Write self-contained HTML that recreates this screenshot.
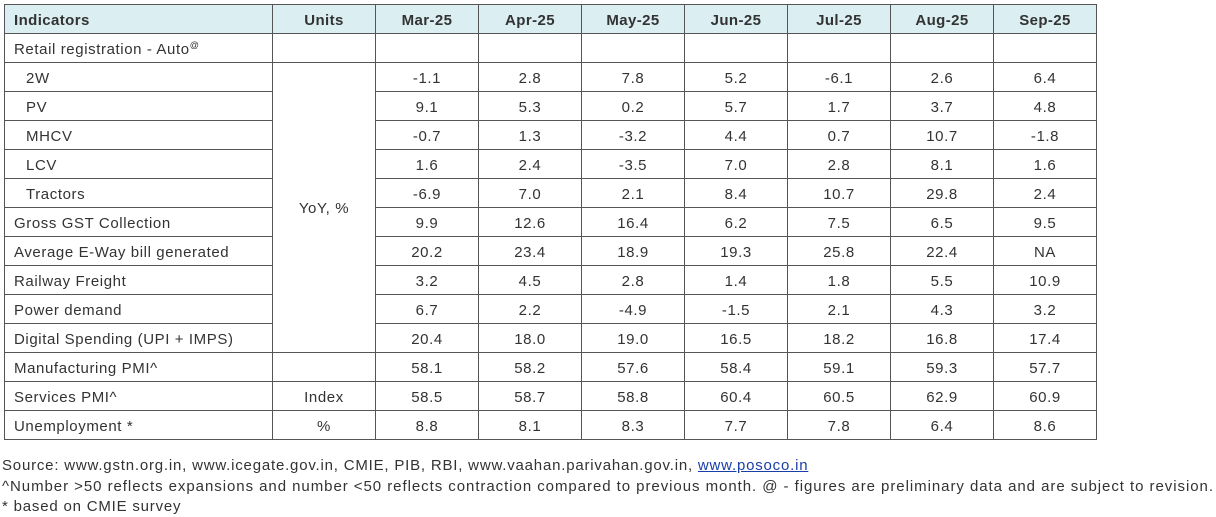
<!DOCTYPE html>
<html><head><meta charset="utf-8"><style>
body{margin:0;background:#fff;width:1216px;height:517px;overflow:hidden;font-family:"Liberation Sans",sans-serif;color:#333;}
table{position:absolute;left:4px;top:4px;border-collapse:collapse;table-layout:fixed;width:1093px;}
td,th{border:1.5px solid #555;height:28px;padding:2px 0 0 0;box-sizing:border-box;font-size:15px;text-align:center;font-weight:normal;letter-spacing:0.6px;}
th{background:#dbeef1;font-weight:bold;color:#333;height:29px;letter-spacing:0.4px;}
td.l,th.l{text-align:left;padding-left:9px;}
td.i{text-align:left;padding-left:21px;}
.f{position:absolute;left:2px;font-size:15px;letter-spacing:0.8px;color:#333;white-space:nowrap;}
a{color:#1a3ea8;text-decoration:underline;}
sup{font-size:9px;}
</style></head><body>
<table>
<colgroup><col style="width:268px"><col style="width:103px"><col style="width:103px"><col style="width:103px"><col style="width:103px"><col style="width:103px"><col style="width:103px"><col style="width:103px"><col style="width:103px"></colgroup>
<tr style="height:29px"><th class="l">Indicators</th><th>Units</th><th>Mar-25</th><th>Apr-25</th><th>May-25</th><th>Jun-25</th><th>Jul-25</th><th>Aug-25</th><th>Sep-25</th></tr>
<tr style="height:29px"><td class="l">Retail registration - Auto<sup>@</sup></td><td></td><td></td><td></td><td></td><td></td><td></td><td></td><td></td></tr>
<tr style="height:29px"><td class="i">2W</td><td rowspan="10">YoY, %</td><td>-1.1</td><td>2.8</td><td>7.8</td><td>5.2</td><td>-6.1</td><td>2.6</td><td>6.4</td></tr>
<tr style="height:29px"><td class="i">PV</td><td>9.1</td><td>5.3</td><td>0.2</td><td>5.7</td><td>1.7</td><td>3.7</td><td>4.8</td></tr>
<tr style="height:29px"><td class="i">MHCV</td><td>-0.7</td><td>1.3</td><td>-3.2</td><td>4.4</td><td>0.7</td><td>10.7</td><td>-1.8</td></tr>
<tr style="height:29px"><td class="i">LCV</td><td>1.6</td><td>2.4</td><td>-3.5</td><td>7.0</td><td>2.8</td><td>8.1</td><td>1.6</td></tr>
<tr style="height:29px"><td class="i">Tractors</td><td>-6.9</td><td>7.0</td><td>2.1</td><td>8.4</td><td>10.7</td><td>29.8</td><td>2.4</td></tr>
<tr style="height:29px"><td class="l">Gross GST Collection</td><td>9.9</td><td>12.6</td><td>16.4</td><td>6.2</td><td>7.5</td><td>6.5</td><td>9.5</td></tr>
<tr style="height:29px"><td class="l">Average E-Way bill generated</td><td>20.2</td><td>23.4</td><td>18.9</td><td>19.3</td><td>25.8</td><td>22.4</td><td>NA</td></tr>
<tr style="height:29px"><td class="l">Railway Freight</td><td>3.2</td><td>4.5</td><td>2.8</td><td>1.4</td><td>1.8</td><td>5.5</td><td>10.9</td></tr>
<tr style="height:29px"><td class="l">Power demand</td><td>6.7</td><td>2.2</td><td>-4.9</td><td>-1.5</td><td>2.1</td><td>4.3</td><td>3.2</td></tr>
<tr style="height:29px"><td class="l">Digital Spending (UPI + IMPS)</td><td>20.4</td><td>18.0</td><td>19.0</td><td>16.5</td><td>18.2</td><td>16.8</td><td>17.4</td></tr>
<tr style="height:29px"><td class="l">Manufacturing PMI^</td><td></td><td>58.1</td><td>58.2</td><td>57.6</td><td>58.4</td><td>59.1</td><td>59.3</td><td>57.7</td></tr>
<tr style="height:29px"><td class="l">Services PMI^</td><td>Index</td><td>58.5</td><td>58.7</td><td>58.8</td><td>60.4</td><td>60.5</td><td>62.9</td><td>60.9</td></tr>
<tr style="height:29px"><td class="l">Unemployment *</td><td>%</td><td>8.8</td><td>8.1</td><td>8.3</td><td>7.7</td><td>7.8</td><td>6.4</td><td>8.6</td></tr>
</table>
<div class="f" style="top:457px">Source: www.gstn.org.in, www.icegate.gov.in, CMIE, PIB, RBI, www.vaahan.parivahan.gov.in, <a>www.posoco.in</a></div>
<div class="f" style="top:478px;letter-spacing:0.95px">^Number &gt;50 reflects expansions and number &lt;50 reflects contraction compared to previous month. @ - figures are preliminary data and are subject to revision.</div>
<div class="f" style="top:498px">* based on CMIE survey</div>
</body></html>
